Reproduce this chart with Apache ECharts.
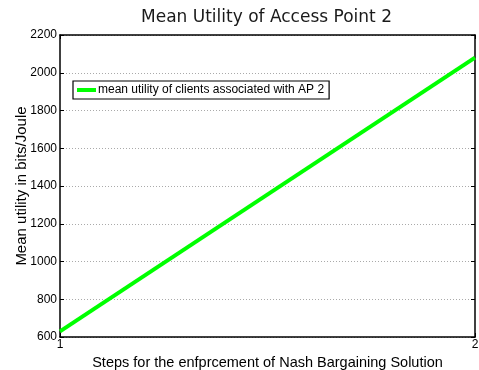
<!DOCTYPE html>
<html>
<head>
<meta charset="utf-8">
<script src="https://cdn.jsdelivr.net/npm/echarts@6/dist/echarts.min.js"></script>
<style>
  html, body { margin: 0; padding: 0; background: #fff; }
  #chart { width: 479px; height: 370px; }
</style>
</head>
<body>
<div id="chart"></div>
<script>
// Mean utility per negotiation step for clients of AP 2
const steps = [1, 2];
const meanUtility = [630, 2080];
const seriesName = 'mean utility of clients associated with AP 2';
const yTicks = [600, 800, 1000, 1200, 1400, 1600, 1800, 2000, 2200];

const chart = echarts.init(document.getElementById('chart'), null, { renderer: 'canvas' });

const baseFont = 'Liberation Sans, Arial, sans-serif';
const boxAxisLine = { show: true, lineStyle: { color: '#000', width: 1.5 } };
const plainNumber = v => String(v);

chart.setOption({
  animation: false,
  backgroundColor: '#fff',
  title: {
    text: 'Mean Utility of Access Point 2',
    left: 136,
    top: 4,
    textStyle: { fontFamily: 'DejaVu Sans, sans-serif', fontSize: 17, fontWeight: 'normal', color: '#1a1a1a' }
  },
  legend: {
    left: 73,
    top: 81,
    orient: 'vertical',
    icon: 'rect',
    itemWidth: 19,
    itemHeight: 4,
    padding: [3, 5, 3, 4],
    itemGap: 0,
    borderColor: '#000',
    borderWidth: 1.2,
    backgroundColor: '#fff',
    textStyle: { fontFamily: baseFont, fontSize: 12, color: '#000', padding: [0, 0, 0, -3] },
    data: [seriesName]
  },
  grid: { left: 60, right: 4, top: 35, bottom: 33, outerBoundsMode: 'none', containLabel: false },
  xAxis: [
    {
      type: 'value',
      min: steps[0],
      max: steps[steps.length - 1],
      interval: 1,
      name: 'Steps for the enfprcement of Nash Bargaining Solution',
      nameLocation: 'middle',
      nameGap: 17,
      nameTextStyle: { fontFamily: baseFont, fontSize: 14.5, color: '#000' },
      axisLine: boxAxisLine,
      axisTick: { show: true, inside: true, length: 4, lineStyle: { color: '#000' } },
      axisLabel: { fontFamily: baseFont, fontSize: 12, color: '#000', margin: 2, formatter: plainNumber },
      splitLine: { show: false }
    },
    {
      type: 'value',
      position: 'top',
      min: steps[0],
      max: steps[steps.length - 1],
      interval: 1,
      axisLine: boxAxisLine,
      axisTick: { show: true, inside: true, length: 4, lineStyle: { color: '#000' } },
      axisLabel: { show: false },
      splitLine: { show: false }
    }
  ],
  yAxis: [
    {
      type: 'value',
      min: yTicks[0],
      max: yTicks[yTicks.length - 1],
      interval: yTicks[1] - yTicks[0],
      name: 'Mean utility in bits/Joule',
      nameLocation: 'middle',
      nameGap: 31,
      nameMoveOverlap: false,
      nameTextStyle: { fontFamily: baseFont, fontSize: 15, color: '#000' },
      axisLine: boxAxisLine,
      axisTick: { show: true, inside: true, length: 4, lineStyle: { color: '#000' } },
      axisLabel: { fontFamily: baseFont, fontSize: 12, color: '#000', margin: 3, formatter: plainNumber },
      splitLine: { show: true, lineStyle: { color: '#aaa', type: [1, 2], width: 1 } }
    },
    {
      type: 'value',
      position: 'right',
      min: yTicks[0],
      max: yTicks[yTicks.length - 1],
      interval: yTicks[1] - yTicks[0],
      axisLine: boxAxisLine,
      axisTick: { show: true, inside: true, length: 4, lineStyle: { color: '#000' } },
      axisLabel: { show: false },
      splitLine: { show: false }
    }
  ],
  series: [
    {
      name: seriesName,
      type: 'line',
      xAxisIndex: 0,
      yAxisIndex: 0,
      data: steps.map((s, i) => [s, meanUtility[i]]),
      symbol: 'none',
      lineStyle: { color: '#00ff00', width: 4 },
      itemStyle: { color: '#00ff00' }
    }
  ]
});
</script>
</body>
</html>
